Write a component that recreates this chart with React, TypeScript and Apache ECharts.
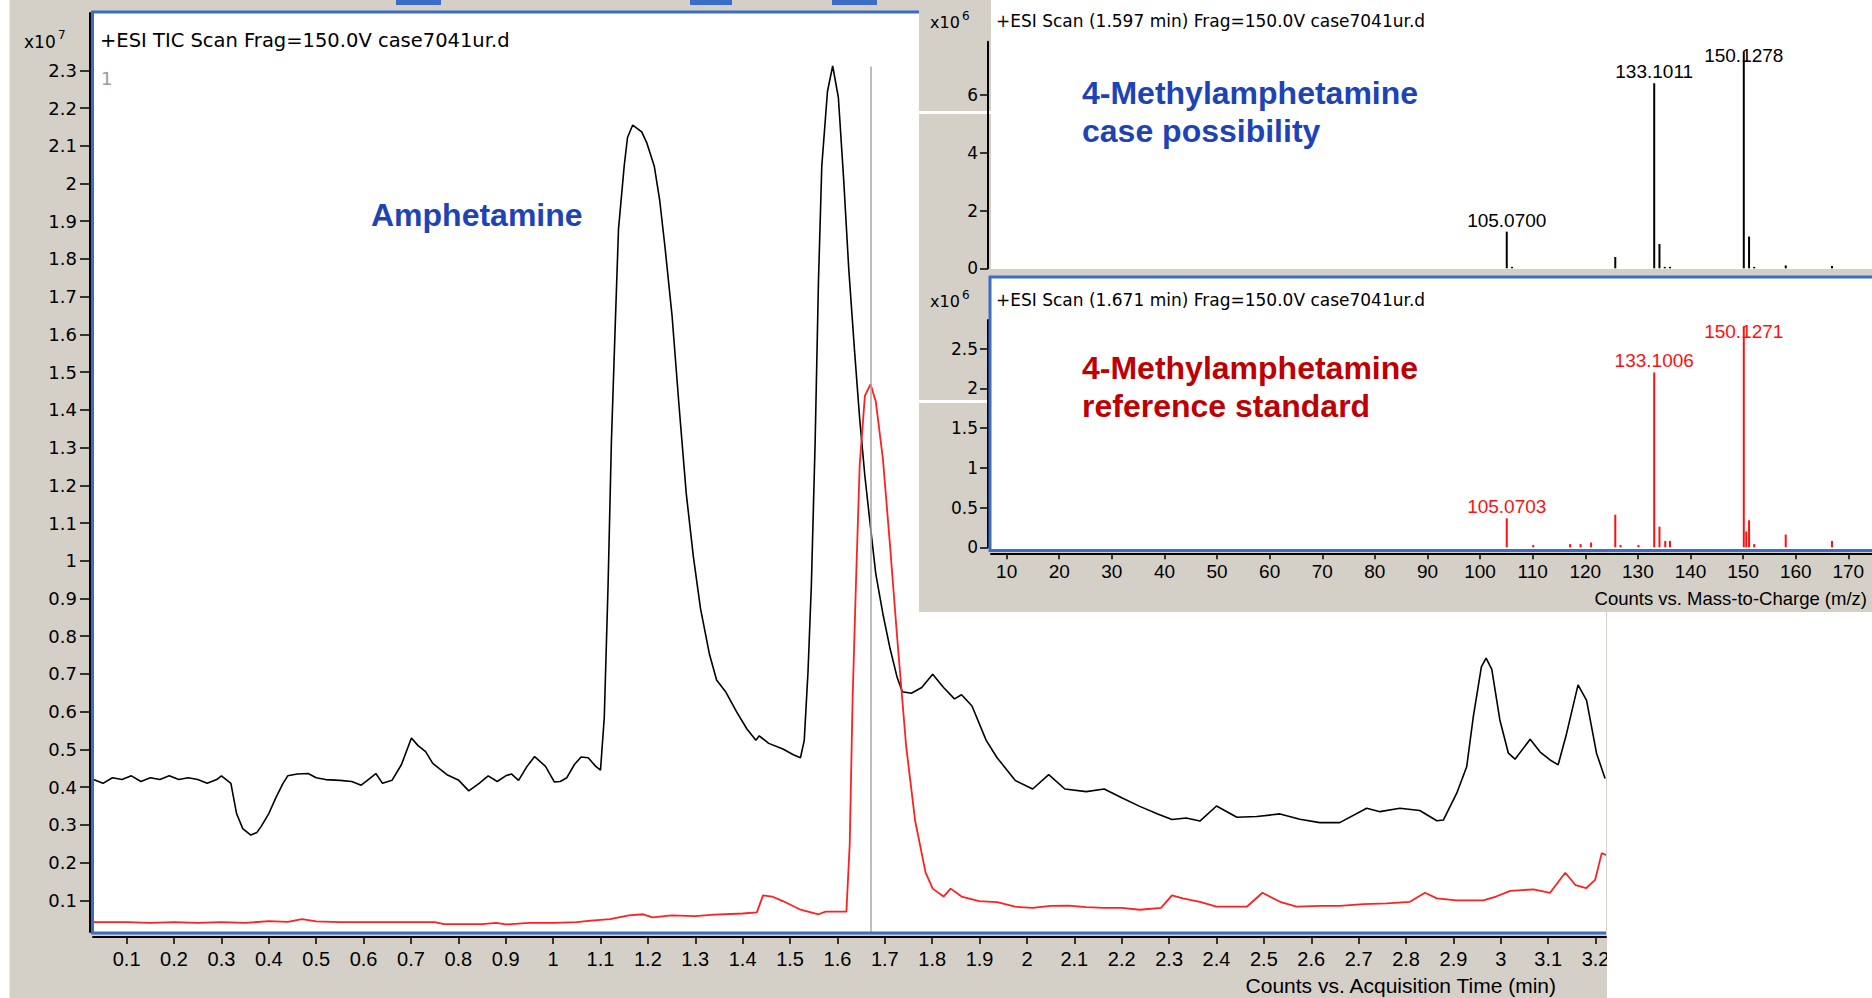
import React, { useEffect, useRef } from "react";
import * as echarts from "echarts";

// ---------- DATA ----------
// TIC traces: [acquisition time (min), counts x10^7]
const ticCaseTrace: [number, number][] = [
  [0.03, 0.42], [0.05, 0.41], [0.07, 0.425], [0.09, 0.42], [0.11, 0.43], [0.13, 0.415], [0.15, 0.425],
  [0.17, 0.42], [0.19, 0.43], [0.21, 0.42], [0.23, 0.425], [0.25, 0.42], [0.27, 0.41], [0.29, 0.42],
  [0.3, 0.43], [0.31, 0.42], [0.32, 0.41], [0.332, 0.33], [0.345, 0.29], [0.362, 0.273], [0.375, 0.28],
  [0.384, 0.296], [0.4, 0.33], [0.415, 0.372], [0.43, 0.41], [0.44, 0.43], [0.46, 0.435], [0.483, 0.436],
  [0.5, 0.425], [0.52, 0.42], [0.55, 0.418], [0.575, 0.415], [0.595, 0.405], [0.61, 0.42], [0.626, 0.436],
  [0.64, 0.41], [0.66, 0.418], [0.68, 0.46], [0.701, 0.53], [0.715, 0.51], [0.731, 0.494], [0.746, 0.463],
  [0.776, 0.433], [0.801, 0.418], [0.822, 0.39], [0.844, 0.41], [0.863, 0.43], [0.882, 0.415], [0.9, 0.43],
  [0.912, 0.435], [0.927, 0.418], [0.945, 0.455], [0.961, 0.481], [0.984, 0.455], [1.0025, 0.414],
  [1.015, 0.415], [1.029, 0.425], [1.045, 0.46], [1.059, 0.48], [1.074, 0.478], [1.09, 0.455], [1.1, 0.445],
  [1.108, 0.585], [1.116, 0.935], [1.123, 1.315], [1.131, 1.62], [1.138, 1.879], [1.15, 2.046],
  [1.157, 2.122], [1.168, 2.155], [1.187, 2.137], [1.198, 2.107], [1.2135, 2.046], [1.225, 1.955],
  [1.236, 1.833], [1.251, 1.65], [1.266, 1.407], [1.281, 1.178], [1.296, 1.011], [1.311, 0.874],
  [1.33, 0.752], [1.345, 0.684], [1.364, 0.653], [1.387, 0.6], [1.409, 0.554], [1.428, 0.524],
  [1.435, 0.536], [1.455, 0.516], [1.485, 0.501], [1.507, 0.486], [1.522, 0.478], [1.53, 0.524],
  [1.538, 0.707], [1.545, 0.935], [1.553, 1.315], [1.56, 1.741], [1.567, 2.046], [1.579, 2.244],
  [1.59, 2.312], [1.602, 2.228], [1.613, 2.015], [1.624, 1.772], [1.636, 1.559], [1.647, 1.376],
  [1.658, 1.224], [1.67, 1.087], [1.681, 0.965], [1.696, 0.859], [1.711, 0.768], [1.726, 0.691],
  [1.737, 0.653], [1.756, 0.649], [1.778, 0.664], [1.801, 0.699], [1.824, 0.664], [1.847, 0.634],
  [1.862, 0.645], [1.884, 0.615], [1.914, 0.524], [1.937, 0.478], [1.975, 0.418], [2.012, 0.395],
  [2.046, 0.433], [2.08, 0.395], [2.125, 0.388], [2.163, 0.395], [2.2, 0.372], [2.238, 0.349],
  [2.276, 0.329], [2.306, 0.314], [2.336, 0.318], [2.365, 0.31], [2.4, 0.35], [2.443, 0.32],
  [2.485, 0.322], [2.534, 0.329], [2.576, 0.315], [2.618, 0.306], [2.66, 0.306], [2.717, 0.344],
  [2.745, 0.335], [2.787, 0.344], [2.829, 0.338], [2.865, 0.311], [2.879, 0.313], [2.907, 0.384],
  [2.928, 0.454], [2.942, 0.587], [2.959, 0.719], [2.969, 0.742], [2.981, 0.712], [2.998, 0.578],
  [3.016, 0.49], [3.03, 0.474], [3.062, 0.527], [3.083, 0.493], [3.104, 0.472], [3.121, 0.459],
  [3.139, 0.543], [3.163, 0.671], [3.181, 0.63], [3.202, 0.49], [3.22, 0.423],
];

const ticRefTrace: [number, number][] = [
  [0.03, 0.042], [0.1, 0.042], [0.15, 0.04], [0.2, 0.042], [0.25, 0.04], [0.3, 0.042], [0.35, 0.04],
  [0.4, 0.045], [0.44, 0.043], [0.47, 0.05], [0.5, 0.044], [0.55, 0.042], [0.6, 0.042], [0.65, 0.042],
  [0.7, 0.042], [0.75, 0.042], [0.77, 0.037], [0.85, 0.037], [0.88, 0.04], [0.9, 0.036], [0.95, 0.04],
  [1.0, 0.04], [1.05, 0.042], [1.08, 0.046], [1.12, 0.05], [1.16, 0.06], [1.19, 0.063], [1.21, 0.055],
  [1.25, 0.06], [1.3, 0.058], [1.34, 0.062], [1.4, 0.065], [1.43, 0.068], [1.443, 0.113], [1.462, 0.11],
  [1.485, 0.098], [1.522, 0.075], [1.56, 0.063], [1.575, 0.07], [1.619, 0.07], [1.626, 0.25],
  [1.632, 0.63], [1.639, 0.935], [1.647, 1.254], [1.658, 1.437], [1.67, 1.468], [1.681, 1.422],
  [1.696, 1.27], [1.711, 1.041], [1.726, 0.798], [1.745, 0.509], [1.764, 0.311], [1.786, 0.174],
  [1.801, 0.131], [1.824, 0.11], [1.839, 0.131], [1.862, 0.11], [1.899, 0.098], [1.937, 0.095],
  [1.975, 0.083], [2.012, 0.08], [2.05, 0.085], [2.088, 0.086], [2.125, 0.082], [2.163, 0.08],
  [2.2, 0.08], [2.238, 0.075], [2.283, 0.08], [2.306, 0.113], [2.329, 0.105], [2.365, 0.096],
  [2.4, 0.083], [2.464, 0.083], [2.497, 0.12], [2.534, 0.096], [2.569, 0.083], [2.62, 0.085],
  [2.66, 0.085], [2.71, 0.09], [2.759, 0.092], [2.808, 0.096], [2.84, 0.12], [2.865, 0.105],
  [2.907, 0.1], [2.963, 0.1], [2.99, 0.11], [3.02, 0.125], [3.069, 0.129], [3.104, 0.12],
  [3.136, 0.173], [3.158, 0.14], [3.18, 0.132], [3.199, 0.154], [3.213, 0.225], [3.222, 0.22],
];

const cursorTime = 1.671;
const cursorTop = 2.31;

const ticTimeTicks = [
  0.1, 0.2, 0.3, 0.4, 0.5, 0.6, 0.7, 0.8, 0.9, 1, 1.1, 1.2, 1.3, 1.4, 1.5, 1.6, 1.7, 1.8, 1.9, 2,
  2.1, 2.2, 2.3, 2.4, 2.5, 2.6, 2.7, 2.8, 2.9, 3, 3.1, 3.2,
];
const ticCountTicks = [
  0.1, 0.2, 0.3, 0.4, 0.5, 0.6, 0.7, 0.8, 0.9, 1, 1.1, 1.2, 1.3, 1.4, 1.5, 1.6, 1.7, 1.8, 1.9, 2,
  2.1, 2.2, 2.3,
];

// Mass spectra: m/z and counts x10^6
const caseMz = [105.07, 106.07, 125.7, 133.1011, 134.1, 135.1, 136.1, 150.1278, 151.13, 152.1, 158.1, 166.9];
const caseCounts = [1.27, 0.05, 0.39, 6.41, 0.84, 0.05, 0.05, 7.5, 1.1, 0.05, 0.1, 0.08];
const caseLabels = ["105.0700", "", "", "133.1011", "", "", "", "150.1278", "", "", "", ""];

const refMz = [105.0703, 110.1, 117.1, 119.1, 121.1, 125.7, 126.7, 130.1, 133.1006, 134.1, 135.2, 136.1, 150.1271, 150.6, 151.13, 152.1, 158.1, 166.9];
const refCounts = [0.365, 0.03, 0.04, 0.04, 0.06, 0.41, 0.03, 0.03, 2.2, 0.26, 0.08, 0.08, 2.78, 0.2, 0.34, 0.04, 0.16, 0.08];
const refLabels = ["105.0703", "", "", "", "", "", "", "", "133.1006", "", "", "", "150.1271", "", "", "", "", ""];

const mzTicks = [10, 20, 30, 40, 50, 60, 70, 80, 90, 100, 110, 120, 130, 140, 150, 160, 170];
const caseCountTicks = [0, 2, 4, 6];
const refCountTicks = [0, 0.5, 1, 1.5, 2, 2.5];

// ---------- STYLE ----------
const FONT = "'Liberation Sans', Arial, sans-serif";
const WIDE = "'DejaVu Sans', Verdana, sans-serif";
const GRAY = "#d4d0c8";
const BLUE_BORDER = "#3b6dc6";
const TEXT_BLUE = "#1e43b6";
const TEXT_RED = "#c00000";

export default function App() {
  const ref = useRef<HTMLDivElement>(null);

  useEffect(() => {
    if (!ref.current) return;
    const chart = echarts.init(ref.current, undefined, { renderer: "svg" });

    const peakItems = (mz: number[], counts: number[], labels: string[], color: string, downShift: number) =>
      mz.map((m, i) => {
        const lab = labels[i];
        const item: any = { value: [m, counts[i]] };
        if (lab) {
          const isBase = lab.startsWith("150");
          item.label = {
            show: true,
            position: "top",
            distance: 2,
            formatter: lab,
            color,
            fontFamily: FONT,
            fontSize: 19,
            offset: [0, isBase ? downShift : 0],
          };
        }
        return item;
      });

    const axisLineBlack = { show: true, onZero: false, lineStyle: { color: "#000", width: 2 } };

    const option: any = {
      animation: false,
      backgroundColor: GRAY,
      textStyle: { fontFamily: FONT },
      grid: [
        { left: 93, top: 13, width: 1513, height: 919 },
        { left: 991, top: 41.7, width: 881, height: 226.6 },
        { left: 991, top: 320, width: 881, height: 227.3 },
      ],
      xAxis: [
        {
          type: "value", gridIndex: 0, min: 0.029, max: 3.222, offset: 5,
          axisLine: axisLineBlack,
          axisTick: { show: true, customValues: ticTimeTicks, length: 7, lineStyle: { color: "#000", width: 1.5 } },
          axisLabel: { customValues: ticTimeTicks, formatter: (v: number) => String(v), color: "#000", fontSize: 20, fontFamily: FONT, margin: 12 },
          splitLine: { show: false },
        },
        { type: "value", gridIndex: 1, min: 7.03, max: 174.5, show: false },
        {
          type: "value", gridIndex: 2, min: 7.03, max: 174.5, offset: 6, z: 6,
          axisLine: axisLineBlack,
          axisTick: { show: true, customValues: mzTicks, length: 6, lineStyle: { color: "#000", width: 1.5 } },
          axisLabel: { customValues: mzTicks, formatter: (v: number) => String(v), color: "#000", fontSize: 19, fontFamily: FONT, margin: 9 },
          splitLine: { show: false },
        },
      ],
      yAxis: [
        {
          type: "value", gridIndex: 0, min: 0.016, max: 2.452, offset: 3,
          axisLine: axisLineBlack,
          axisTick: { show: true, customValues: ticCountTicks, length: 10, lineStyle: { color: "#000", width: 1.5 } },
          axisLabel: { customValues: ticCountTicks, formatter: (v: number) => String(v), color: "#000", fontSize: 18, fontFamily: WIDE, margin: 13 },
          splitLine: { show: false },
        },
        {
          type: "value", gridIndex: 1, min: 0, max: 7.85, offset: 3, z: 6,
          axisLine: axisLineBlack,
          axisTick: { show: true, customValues: caseCountTicks, length: 8, lineStyle: { color: "#000", width: 1.5 } },
          axisLabel: { customValues: caseCountTicks, formatter: (v: number) => String(v), color: "#000", fontSize: 17, fontFamily: WIDE, margin: 10 },
          splitLine: { show: false },
        },
        {
          type: "value", gridIndex: 2, min: 0, max: 2.86, offset: 3, z: 6,
          axisLine: axisLineBlack,
          axisTick: { show: true, customValues: refCountTicks, length: 8, lineStyle: { color: "#000", width: 1.5 } },
          axisLabel: { customValues: refCountTicks, formatter: (v: number) => String(v), color: "#000", fontSize: 17, fontFamily: WIDE, margin: 10 },
          splitLine: { show: false },
        },
      ],
      series: [
        {
          type: "line", xAxisIndex: 0, yAxisIndex: 0, data: ticCaseTrace, showSymbol: false, symbol: "none",
          lineStyle: { color: "#000", width: 1.6 }, z: 3,
          markLine: {
            symbol: "none", silent: true, label: { show: false },
            lineStyle: { color: "#a8a8a8", width: 1.5, type: "solid" },
            data: [[{ coord: [cursorTime, cursorTop] }, { coord: [cursorTime, 0.016] }]],
          },
        },
        {
          type: "line", xAxisIndex: 0, yAxisIndex: 0, data: ticRefTrace, showSymbol: false, symbol: "none",
          lineStyle: { color: "#ff2020", width: 1.8 }, z: 3,
        },
        {
          type: "bar", xAxisIndex: 1, yAxisIndex: 1, barWidth: 2, z: 4,
          itemStyle: { color: "#000" },
          data: peakItems(caseMz, caseCounts, caseLabels, "#000", 15),
        },
        {
          type: "bar", xAxisIndex: 2, yAxisIndex: 2, barWidth: 2, z: 4,
          itemStyle: { color: "#ff1010" },
          data: peakItems(refMz, refCounts, refLabels, "#ff1010", 17),
        },
      ],
      graphic: [
        // backgrounds
        { type: "rect", z: 0, shape: { x: 0, y: 0, width: 9.5, height: 998 }, style: { fill: "#fff" } },
        { type: "rect", z: 0, shape: { x: 93, y: 13, width: 1513, height: 919 }, style: { fill: "#fff" } },
        { type: "rect", z: 2, shape: { x: 1607, y: 612, width: 265, height: 386 }, style: { fill: "#fff" } },
        { type: "rect", z: 0, shape: { x: 396, y: 0, width: 45, height: 5 }, style: { fill: BLUE_BORDER } },
        { type: "rect", z: 0, shape: { x: 690, y: 0, width: 42, height: 5 }, style: { fill: BLUE_BORDER } },
        { type: "rect", z: 0, shape: { x: 832, y: 0, width: 45, height: 5 }, style: { fill: BLUE_BORDER } },
        // inset panel
        { type: "rect", z: 1, shape: { x: 919, y: 0, width: 953, height: 612 }, style: { fill: GRAY } },
        { type: "rect", z: 1, shape: { x: 991, y: 0, width: 881, height: 269 }, style: { fill: "#fff" } },
        { type: "rect", z: 1, shape: { x: 991, y: 277, width: 881, height: 273 }, style: { fill: "#fff" } },
        { type: "rect", z: 1, shape: { x: 919, y: 111, width: 72, height: 3 }, style: { fill: "#fff" } },
        { type: "rect", z: 1, shape: { x: 919, y: 400, width: 72, height: 3 }, style: { fill: "#fff" } },
        // blue borders
        { type: "line", z: 7, shape: { x1: 92.5, y1: 11, x2: 92.5, y2: 934 }, style: { stroke: BLUE_BORDER, lineWidth: 3 } },
        { type: "line", z: 7, shape: { x1: 91, y1: 12, x2: 919, y2: 12 }, style: { stroke: BLUE_BORDER, lineWidth: 3 } },
        { type: "line", z: 7, shape: { x1: 91, y1: 933, x2: 1606, y2: 933 }, style: { stroke: BLUE_BORDER, lineWidth: 3 } },
        { type: "line", z: 7, shape: { x1: 990, y1: 276, x2: 990, y2: 552 }, style: { stroke: BLUE_BORDER, lineWidth: 3 } },
        { type: "line", z: 7, shape: { x1: 989, y1: 277, x2: 1872, y2: 277 }, style: { stroke: BLUE_BORDER, lineWidth: 3 } },
        { type: "line", z: 7, shape: { x1: 989, y1: 550.5, x2: 1872, y2: 550.5 }, style: { stroke: BLUE_BORDER, lineWidth: 3 } },
        // texts main
        { type: "text", z: 8, x: 24, y: 42, style: { text: "x10", fill: "#000", font: `17px ${WIDE}`, textVerticalAlign: "middle" } },
        { type: "text", z: 8, x: 58, y: 35, style: { text: "7", fill: "#000", font: `12px ${WIDE}`, textVerticalAlign: "middle" } },
        { type: "text", z: 8, x: 100, y: 40, style: { text: "+ESI TIC Scan Frag=150.0V case7041ur.d", fill: "#000", font: `19.5px ${WIDE}`, textVerticalAlign: "middle" } },
        { type: "text", z: 8, x: 101, y: 78, style: { text: "1", fill: "#9a9a9a", font: `18px ${WIDE}`, textVerticalAlign: "middle" } },
        { type: "text", z: 8, x: 371, y: 215, style: { text: "Amphetamine", fill: TEXT_BLUE, font: `bold 32px ${FONT}`, textVerticalAlign: "middle" } },
        { type: "text", z: 8, x: 1556, y: 985, style: { text: "Counts vs. Acquisition Time (min)", fill: "#000", font: `21px ${FONT}`, textAlign: "right", textVerticalAlign: "middle" } },
        // texts inset
        { type: "text", z: 8, x: 930, y: 22, style: { text: "x10", fill: "#000", font: `16px ${WIDE}`, textVerticalAlign: "middle" } },
        { type: "text", z: 8, x: 962, y: 16, style: { text: "6", fill: "#000", font: `12px ${WIDE}`, textVerticalAlign: "middle" } },
        { type: "text", z: 8, x: 996, y: 21, style: { text: "+ESI Scan (1.597 min) Frag=150.0V case7041ur.d", fill: "#000", font: `17px ${WIDE}`, textVerticalAlign: "middle" } },
        { type: "text", z: 8, x: 1082, y: 93, style: { text: "4-Methylamphetamine", fill: TEXT_BLUE, font: `bold 32px ${FONT}`, textVerticalAlign: "middle" } },
        { type: "text", z: 8, x: 1082, y: 131, style: { text: "case possibility", fill: TEXT_BLUE, font: `bold 32px ${FONT}`, textVerticalAlign: "middle" } },
        { type: "text", z: 8, x: 930, y: 301, style: { text: "x10", fill: "#000", font: `16px ${WIDE}`, textVerticalAlign: "middle" } },
        { type: "text", z: 8, x: 962, y: 295, style: { text: "6", fill: "#000", font: `12px ${WIDE}`, textVerticalAlign: "middle" } },
        { type: "text", z: 8, x: 996, y: 300, style: { text: "+ESI Scan (1.671 min) Frag=150.0V case7041ur.d", fill: "#000", font: `17px ${WIDE}`, textVerticalAlign: "middle" } },
        { type: "text", z: 8, x: 1082, y: 368, style: { text: "4-Methylamphetamine", fill: TEXT_RED, font: `bold 32px ${FONT}`, textVerticalAlign: "middle" } },
        { type: "text", z: 8, x: 1082, y: 406, style: { text: "reference standard", fill: TEXT_RED, font: `bold 32px ${FONT}`, textVerticalAlign: "middle" } },
        { type: "text", z: 8, x: 1867, y: 598, style: { text: "Counts vs. Mass-to-Charge (m/z)", fill: "#000", font: `18.5px ${FONT}`, textAlign: "right", textVerticalAlign: "middle" } },
      ],
    };

    chart.setOption(option);
    return () => chart.dispose();
  }, []);

  return (
    <div
      ref={ref}
      style={{ position: "fixed", left: 0, top: 0, width: 1872, height: 998 }}
    />
  );
}
